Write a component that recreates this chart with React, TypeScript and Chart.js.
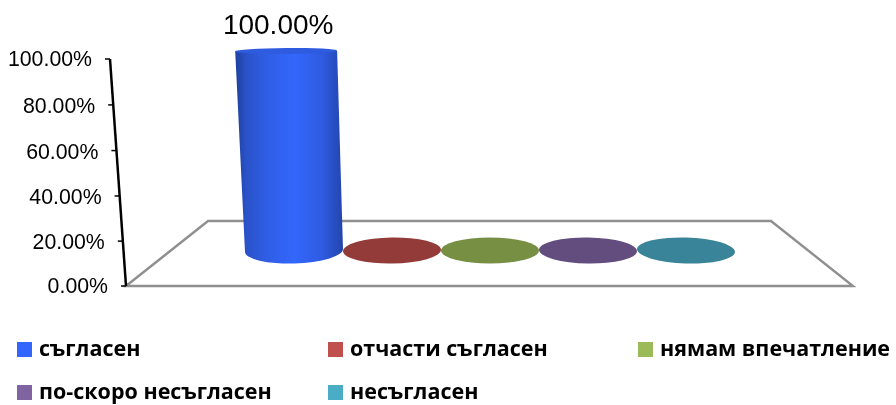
import React, { useEffect, useRef } from "react";
import { Chart, registerables } from "chart.js";

Chart.register(...registerables);

const categories = ["съгласен", "отчасти съгласен", "нямам впечатление", "по-скоро несъгласен", "несъгласен"];
const values = [100, 0, 0, 0, 0];
const legendColors = ["#3366FF", "#C0504D", "#9BBB59", "#8064A2", "#4BACC6"];
const discColors = ["#2F5BDF", "#933B39", "#768F43", "#634C7E", "#3A8499"];
const tickValues = [0, 20, 40, 60, 80, 100];
const tickLabels = ["0.00%", "20.00%", "40.00%", "60.00%", "80.00%", "100.00%"];

const AXIS = { x0: 126, y0: 286, x1: 110, y1: 59 };
const FLOOR = [[126, 286], [208, 221], [771, 221], [853, 286]];
const LEGEND_POS = [[17, 350], [328, 350], [638, 350], [17, 393], [328, 393]];
const FONT = '"Liberation Sans", Arial, sans-serif';

const cylinderPlugin = {
  id: "cylinder3d",
  beforeDatasetsDraw(chart: any) {
    const ctx = chart.ctx;
    const y = chart.scales.y;
    const base = y.getPixelForValue(0);
    const top = y.getPixelForValue(100);
    ctx.save();
    // floor
    ctx.strokeStyle = "#8f8f8f";
    ctx.lineWidth = 2.4;
    ctx.lineJoin = "miter";
    ctx.beginPath();
    FLOOR.forEach((p, i) => (i ? ctx.lineTo(p[0], p[1]) : ctx.moveTo(p[0], p[1])));
    ctx.closePath();
    ctx.stroke();
    // slanted value axis
    ctx.strokeStyle = "#000";
    ctx.lineWidth = 2.5;
    ctx.beginPath();
    ctx.moveTo(AXIS.x1, AXIS.y1);
    ctx.lineTo(AXIS.x0, AXIS.y0);
    ctx.stroke();
    ctx.fillStyle = "#000";
    ctx.font = `21.3px ${FONT}`;
    ctx.textAlign = "right";
    ctx.textBaseline = "middle";
    tickValues.forEach((v, i) => {
      const f = (base - y.getPixelForValue(v)) / (base - top);
      const ax = AXIS.x0 + (AXIS.x1 - AXIS.x0) * f;
      const ay = AXIS.y0 + (AXIS.y1 - AXIS.y0) * f;
      const sag = 8 * f * (1 - f);
      ctx.lineWidth = 1.5;
      ctx.beginPath();
      ctx.moveTo(ax - 5, ay + sag * 0.4);
      ctx.lineTo(ax, ay + sag * 0.4);
      ctx.stroke();
      ctx.fillText(tickLabels[i], ax - 18, ay + 1 + sag);
    });
    ctx.restore();
  },
  afterDatasetsDraw(chart: any) {
    const ctx = chart.ctx;
    const meta = chart.getDatasetMeta(0);
    const area = chart.chartArea;
    const cx = (area.left + area.right) / 2;
    const unit = (area.right - area.left) / categories.length;
    const rx = unit / 2;
    const ry = 13;
    ctx.save();
    meta.data.forEach((bar: any, i: number) => {
      const v = values[i];
      const tilt = ((bar.x - cx) / 196) * 0.03;
      if (v > 0) {
        const h = (bar.base - bar.y) / (area.bottom - area.top);
        const s = 1 + 0.04 * h;
        const tx = cx + (bar.x - cx) * s;
        const trx = rx * s;
        const g = ctx.createLinearGradient(tx - trx, 0, bar.x + rx, 0);
        g.addColorStop(0, "#1E3F9C");
        g.addColorStop(0.1, "#2A52C8");
        g.addColorStop(0.3, "#2F5EE6");
        g.addColorStop(0.55, "#3366FB");
        g.addColorStop(0.8, "#2E5CE2");
        g.addColorStop(0.97, "#2549B5");
        g.addColorStop(1, "#20429F");
        ctx.fillStyle = g;
        ctx.beginPath();
        ctx.moveTo(tx - trx, bar.y);
        ctx.lineTo(bar.x - rx, bar.base + 1.5);
        ctx.ellipse(bar.x, bar.base, rx, ry, tilt, Math.PI, 0, true);
        ctx.lineTo(tx + trx, bar.y);
        ctx.closePath();
        ctx.fill();
        ctx.fillStyle = discColors[i];
        ctx.beginPath();
        ctx.ellipse(tx, bar.y, trx, 3, -0.01, 0, Math.PI * 2);
        ctx.fill();
        ctx.fillStyle = "#000";
        ctx.font = `28px ${FONT}`;
        ctx.textAlign = "center";
        ctx.textBaseline = "middle";
        ctx.fillText(v.toFixed(2) + "%", tx - 8, bar.y - 25);
      } else {
        ctx.fillStyle = discColors[i];
        ctx.beginPath();
        ctx.ellipse(bar.x, bar.base, rx, ry, tilt, 0, Math.PI * 2);
        ctx.fill();
      }
    });
    // legend
    ctx.font = 'bold 21.5px "Open Sans", "Noto Sans", sans-serif';
    ctx.textAlign = "left";
    ctx.textBaseline = "middle";
    categories.forEach((label, i) => {
      const [lx, ly] = LEGEND_POS[i];
      ctx.fillStyle = legendColors[i];
      ctx.fillRect(lx, ly - 8, 15, 15);
      ctx.fillStyle = "#000";
      ctx.fillText(label, lx + 22, ly);
    });
    ctx.restore();
  },
};

export default function App() {
  const ref = useRef<HTMLCanvasElement>(null);
  useEffect(() => {
    const chart = new Chart(ref.current as HTMLCanvasElement, {
      type: "bar",
      data: {
        labels: categories,
        datasets: [
          {
            data: values,
            backgroundColor: legendColors,
            borderWidth: 0,
            barPercentage: 0.5,
            categoryPercentage: 1,
          },
        ],
      },
      options: {
        responsive: false,
        animation: false,
        layout: { padding: { left: 245, right: 161, top: 51, bottom: 154.5 } },
        plugins: { legend: { display: false }, title: { display: false }, tooltip: { enabled: false } },
        scales: {
          x: { display: false },
          y: { display: false, min: 0, max: 100, ticks: { stepSize: 20 } },
        },
      },
      plugins: [cylinderPlugin],
    } as any);
    return () => chart.destroy();
  }, []);
  return (
    <div style={{ position: "absolute", left: 0, top: 0, width: 896, height: 405, background: "#fff" }}>
      <canvas ref={ref} width={896} height={405} style={{ display: "block" }} />
    </div>
  );
}
